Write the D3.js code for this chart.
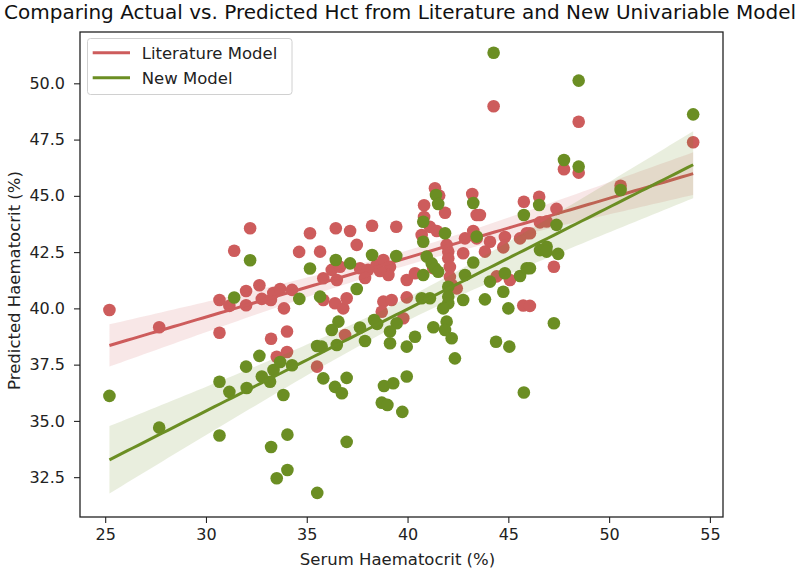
<!DOCTYPE html>
<html>
<head>
<meta charset="utf-8">
<script src="https://cdn.jsdelivr.net/npm/d3@7"></script>
<style>
  body { margin: 0; background: #fff; }
  svg { display: block; }
</style>
</head>
<body>
<script>
// literature model: serum Hct (x) vs predicted Hct (y)
const litActual = [25.21,27.68,30.67,30.67,31.16,31.40,31.99,31.99,32.19,32.65,32.77,33.22,33.23,33.34,33.51,33.68,33.87,34.02,34.02,34.27,
  34.62,35.16,35.51,35.66,35.82,36.24,36.49,35.82,36.40,36.81,36.98,36.90,37.64,38.04,37.89,38.47,38.80,39.13,39.05,36.44,
  37.15,38.24,39.44,37.48,36.65,39.96,40.37,38.80,39.21,38.72,39.96,39.79,40.70,41.11,41.45,41.36,41.57,40.82,41.86,40.82,
  41.94,42.02,42.02,42.10,42.10,42.20,42.44,42.76,42.85,43.26,43.43,43.21,43.43,43.59,44.09,43.84,44.83,44.75,45.58,45.91,
  44.42,45.08,45.74,44.27,45.77,46.53,46.57,46.90,47.39,47.26,47.76,48.49,48.49,50.57,54.17,46.07,46.07,38.63,41.27];
const litPred = [39.93,39.16,40.37,38.92,40.11,42.56,40.77,40.14,43.56,41.03,40.42,40.37,38.65,40.68,37.85,40.86,40.00,38.97,38.06,40.82,
  42.51,43.34,37.41,42.52,41.34,41.71,41.26,40.37,40.23,40.00,40.45,38.82,41.78,41.71,41.35,41.93,42.15,41.85,41.48,43.56,
  43.44,43.67,43.63,42.82,41.85,41.26,41.56,40.30,40.37,39.85,40.49,39.56,43.26,43.62,43.44,45.34,45.01,44.58,44.25,44.06,
  42.82,42.52,42.23,41.84,41.40,41.04,40.89,42.45,43.11,43.44,43.11,45.08,44.15,44.15,42.96,42.52,43.17,42.71,43.11,43.34,
  41.42,41.26,40.13,48.98,44.74,44.96,43.82,43.86,44.42,41.85,46.18,48.29,46.03,45.45,47.38,43.34,40.11,41.66,41.79];

// new univariable model
const newActual = [25.21,27.68,30.67,30.67,31.16,31.40,31.99,32.02,32.19,32.65,32.77,33.18,33.23,33.35,33.51,33.68,33.84,34.04,34.04,34.27,
  34.63,35.16,35.51,35.66,35.52,35.82,36.40,36.74,36.98,36.98,35.74,36.49,36.57,36.24,36.44,37.15,37.48,37.64,37.89,38.24,
  38.34,38.49,38.83,39.29,38.72,39.00,39.74,39.96,39.46,39.13,39.13,39.96,40.37,39.44,40.70,41.11,40.78,40.95,41.20,41.36,
  41.52,40.78,40.78,41.86,41.41,41.52,42.02,42.02,42.02,41.77,41.94,41.86,42.19,41.28,42.35,42.76,42.85,43.26,43.26,43.43,
  43.84,44.09,44.75,44.83,45.00,45.58,45.91,44.39,45.05,45.77,45.77,46.53,46.57,46.90,46.90,47.47,47.39,47.26,46.07,44.27,
  47.76,48.49,48.49,50.57,54.17];
const newPred = [36.11,34.70,36.74,34.35,36.29,40.48,37.41,36.46,42.14,37.89,36.97,36.74,33.84,37.26,32.45,37.62,36.15,34.39,32.82,37.47,
  40.42,41.77,38.33,40.52,31.80,36.89,36.51,36.23,36.91,34.07,38.30,38.37,39.41,39.04,42.15,42.00,40.86,39.15,38.55,42.37,
  39.48,39.31,36.55,36.67,35.81,35.71,35.40,36.97,39.34,38.97,38.45,38.30,38.74,42.33,40.45,40.45,41.48,42.30,42.00,41.78,
  41.63,43.85,42.96,43.34,45.04,44.64,40.96,40.52,40.23,40.00,39.41,39.04,38.67,39.16,37.78,40.37,41.48,42.04,44.68,43.19,
  40.40,41.19,40.74,41.56,40.00,41.44,41.78,38.52,38.30,36.26,44.15,44.59,42.59,42.74,42.52,42.42,43.71,39.34,41.78,51.36,
  46.59,50.12,46.30,45.26,48.62];

const seriesNames = ["Literature Model", "New Model"];
const seriesColors = ["#cd5c5c", "#6b8e23"];
const xTicks = [25, 30, 35, 40, 45, 50, 55];
const yTicks = [32.5, 35.0, 37.5, 40.0, 42.5, 45.0, 47.5, 50.0];

const W = 800, H = 571;
const plot = { left: 80, right: 723, top: 32, bottom: 517 };

const svg = d3.select("body").append("svg")
  .attr("width", W)
  .attr("height", H)
  .style("font-family", "'DejaVu Sans', sans-serif");

const x = d3.scaleLinear().domain([23.75, 55.65]).range([plot.left, plot.right]);
const y = d3.scaleLinear().domain([30.73, 52.28]).range([plot.bottom, plot.top]);

// ordinary least squares fit + 95% confidence band of the mean
function fit(xs, ys) {
  const n = xs.length;
  const mx = d3.mean(xs), my = d3.mean(ys);
  let sxx = 0, sxy = 0;
  xs.forEach((v, i) => { sxx += (v - mx) ** 2; sxy += (v - mx) * (ys[i] - my); });
  const b = sxy / sxx, a = my - b * mx;
  let sse = 0;
  xs.forEach((v, i) => { sse += (ys[i] - (a + b * v)) ** 2; });
  const s = Math.sqrt(sse / (n - 2));
  const t = 1.984;
  const lo = d3.min(xs), hi = d3.max(xs);
  const grid = d3.range(0, 101).map(k => lo + (hi - lo) * k / 100);
  return grid.map(g => {
    const yh = a + b * g;
    const se = s * Math.sqrt(1 / n + (g - mx) ** 2 / sxx);
    return { x: g, y: yh, y0: yh - t * se, y1: yh + t * se };
  });
}

const series = [
  { xs: litActual, ys: litPred, color: seriesColors[0] },
  { xs: newActual, ys: newPred, color: seriesColors[1] }
];

svg.append("clipPath").attr("id", "plotclip")
  .append("rect")
  .attr("x", plot.left).attr("y", plot.top)
  .attr("width", plot.right - plot.left).attr("height", plot.bottom - plot.top);

const g = svg.append("g").attr("clip-path", "url(#plotclip)");

series.forEach(s => {
  g.append("g").selectAll("circle")
    .data(s.xs.map((v, i) => [v, s.ys[i]]))
    .enter()
    .append("circle")
      .attr("cx", d => x(d[0]))
      .attr("cy", d => y(d[1]))
      .attr("r", 6.3)
      .attr("fill", s.color);

  const line = fit(s.xs, s.ys);
  g.append("path")
    .datum(line)
    .attr("fill", s.color)
    .attr("fill-opacity", 0.15)
    .attr("d", d3.area().x(d => x(d.x)).y0(d => y(d.y0)).y1(d => y(d.y1)));
  g.append("path")
    .datum(line)
    .attr("fill", "none")
    .attr("stroke", s.color)
    .attr("stroke-width", 3)
    .attr("d", d3.line().x(d => x(d.x)).y(d => y(d.y)));
});

// axes
const xAxis = svg.append("g")
  .attr("transform", `translate(0,${plot.bottom})`)
  .call(d3.axisBottom(x).tickValues(xTicks).tickFormat(d3.format("d")).tickSizeOuter(0).tickSize(6).tickPadding(6));
const yAxis = svg.append("g")
  .attr("transform", `translate(${plot.left},0)`)
  .call(d3.axisLeft(y).tickValues(yTicks).tickFormat(d3.format(".1f")).tickSizeOuter(0).tickSize(6).tickPadding(9));

[xAxis, yAxis].forEach(a => {
  a.select(".domain").remove();
  a.selectAll(".tick line").attr("stroke", "#222").attr("stroke-width", 1.1);
  a.selectAll(".tick text").attr("fill", "#222").style("font-size", "16px")
    .style("font-family", "'DejaVu Sans', sans-serif");
});

svg.append("rect")
  .attr("x", plot.left).attr("y", plot.top)
  .attr("width", plot.right - plot.left).attr("height", plot.bottom - plot.top)
  .attr("fill", "none")
  .attr("stroke", "#222")
  .attr("stroke-width", 1.3);

// labels
svg.append("text")
  .attr("x", W / 2).attr("y", 19)
  .attr("text-anchor", "middle")
  .attr("font-size", "20px")
  .attr("textLength", 792)
  .attr("lengthAdjust", "spacingAndGlyphs")
  .attr("fill", "#111")
  .text("Comparing Actual vs. Predicted Hct from Literature and New Univariable Model");

svg.append("text")
  .attr("x", (plot.left + plot.right) / 2 - 4).attr("y", 565)
  .attr("text-anchor", "middle")
  .attr("font-size", "16.5px")
  .attr("fill", "#222")
  .text("Serum Haematocrit (%)");

svg.append("text")
  .attr("transform", `translate(20,${(plot.top + plot.bottom) / 2 + 6}) rotate(-90)`)
  .attr("text-anchor", "middle")
  .attr("font-size", "16.5px")
  .attr("fill", "#222")
  .text("Predicted Haematocrit (%)");

// legend
const legend = svg.append("g");
legend.append("rect")
  .attr("x", 87.5).attr("y", 38.5)
  .attr("width", 204.5).attr("height", 56)
  .attr("rx", 3)
  .attr("fill", "#fff").attr("fill-opacity", 0.8)
  .attr("stroke", "#d0d0d0").attr("stroke-width", 1);

seriesNames.forEach((name, i) => {
  const yy = 52.7 + i * 25;
  legend.append("line")
    .attr("x1", 92.7).attr("x2", 130)
    .attr("y1", yy).attr("y2", yy)
    .attr("stroke", seriesColors[i])
    .attr("stroke-width", 3);
  legend.append("text")
    .attr("x", 141.7).attr("y", yy + 5.8)
    .attr("font-size", "16.5px")
    .attr("fill", "#222")
    .text(name);
});
</script>
</body>
</html>
